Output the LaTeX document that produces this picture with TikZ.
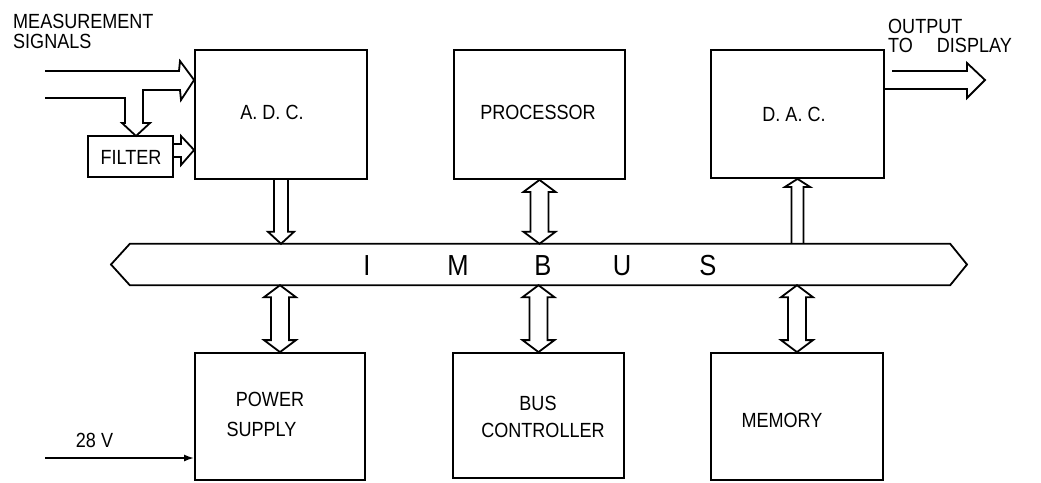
\documentclass[tikz,border=0pt]{standalone}
\usepackage{fontspec}
\setmainfont{Liberation Sans}[FakeStretch=0.88]
\usetikzlibrary{arrows.meta,calc}
\newcommand\vbiarrow[2]{%
  \draw[hollow] let \p1=#1, \p2=#2 in
   (\x1,\y1) -- (\x1+16pt,\y1-12pt) -- (\x1+9pt,\y1-12pt) -- (\x1+9pt,\y2+12pt)
   -- (\x1+16pt,\y2+12pt) -- (\x1,\y2) -- (\x1-16pt,\y2+12pt) -- (\x1-9pt,\y2+12pt)
   -- (\x1-9pt,\y1-12pt) -- (\x1-16pt,\y1-12pt) -- cycle;}
\newcommand\vdownarrow[2]{%
  \draw[hollow] let \p1=#1, \p2=#2 in
   (\x1-7pt,\y1) -- (\x1-7pt,\y2+12pt) -- (\x1-13pt,\y2+12pt) -- (\x1,\y2)
   -- (\x1+13pt,\y2+12pt) -- (\x1+7pt,\y2+12pt) -- (\x1+7pt,\y1);}
\newcommand\vuparrow[2]{%
  \draw[hollow] let \p1=#1, \p2=#2 in
   (\x2-6pt,\y2) -- (\x2-6pt,\y1-8pt) -- (\x2-12.5pt,\y1-8pt) -- (\x1,\y1)
   -- (\x2+12.5pt,\y1-8pt) -- (\x2+6pt,\y1-8pt) -- (\x2+6pt,\y2);}
\begin{document}
\begin{tikzpicture}[x=1pt,y=-1pt,
  box/.style={draw, line width=1.8pt, inner sep=0pt},
  lbl/.style={font=\fontsize{20.5}{24}\selectfont, inner sep=0pt},
  buslbl/.style={font=\fontsize{29}{32}\selectfont, inner sep=0pt},
  hollow/.style={line width=1.8pt, line join=miter},
  line/.style={line width=1.8pt}]
\useasboundingbox (0,0) rectangle (1041,482);

% boxes
\node[box, minimum width=172pt, minimum height=129pt] (adc)   at (281,114.5) {};
\node[box, minimum width=171pt, minimum height=129pt] (proc)  at (539.5,114.5) {};
\node[box, minimum width=173pt, minimum height=128pt] (dac)   at (797.5,114) {};
\node[box, minimum width=170pt, minimum height=127pt] (power) at (280,416.5) {};
\node[box, minimum width=171pt, minimum height=125pt] (busc)  at (538.5,415.5) {};
\node[box, minimum width=172pt, minimum height=127pt] (mem)   at (797,416.5) {};
\node[box, minimum width=85pt, minimum height=41pt]   (filter) at (130.5,156.5) {};

% box labels
\node[lbl] (tadc)  at (272,112)   {A. D. C.};
\node[lbl] (tproc) at (538,112)   {PROCESSOR};
\node[lbl] (tdac)  at (794,114.5) {D. A. C.};
\node[lbl] (tpow1) at (270,399.5) {POWER};
\node[lbl] (tpow2) at (261.5,429.5) {SUPPLY};
\node[lbl] (tbus1) at (538,403)   {BUS};
\node[lbl] (tbus2) at (543,430)   {CONTROLLER};
\node[lbl] (tmem)  at (782,420)   {MEMORY};
\node[lbl] (tfil)  at (131,157)   {FILTER};

% bus
\node[minimum width=820pt, minimum height=41pt, inner sep=0pt] (bus) at (540,264.5) {};
\draw[line] (bus.north west) -- (bus.north east) -- (967,264.5) -- (bus.south east)
  -- (bus.south west) -- (111,264.5) -- cycle;
\node[buslbl] (bI) at (367,266) {I};
\node[buslbl] (bM) at (458,266) {M};
\node[buslbl] (bB) at (543,266) {B};
\node[buslbl] (bU) at (622,266) {U};
\node[buslbl] (bS) at (708,266) {S};

% bus arrows
\vdownarrow{(adc.south)}{(adc.south |- bus.north)}
\vbiarrow{(proc.south)}{(proc.south |- bus.north)}
\vuparrow{(dac.south)}{(dac.south |- bus.north)}
\vbiarrow{(power.north |- bus.south)}{(power.north)}
\vbiarrow{(busc.north |- bus.south)}{(busc.north)}
\vbiarrow{(mem.north |- bus.south)}{(mem.north)}

% inputs
\coordinate (in1) at (45,71);
\coordinate (in2) at (45,98);
\draw[hollow] (in1) -- (179,71) -- (180,61) -- (adc.west |- 0,80) -- (181,100) -- (180,90)
  -- (143,90) -- (143,123) -- (150,123) -- (136,136) -- (122,123) -- (125,123)
  -- (125,98) -- (in2);
\draw[hollow] (filter.east |- 0,144) -- (181,144) -- (181,136) -- (adc.west |- 0,150)
  -- (181,165) -- (181,157) -- (filter.east |- 0,157);

% output
\draw[hollow] (892,71) -- (967,71) -- (967,63) -- (985,80) -- (967,98) -- (967,89)
  -- (dac.east |- 0,89);

% 28 V
\coordinate (v28) at (45,458);
\draw[line, -{Latex[length=10pt,width=7pt]}] (v28) -- (v28 -| power.west);
\node[lbl] (t28) at (94.5,440.5) {28 V};

% texts
\node[lbl, anchor=base west] (tmeas1) at (13,28) {MEASUREMENT};
\node[lbl, anchor=base west] (tmeas2) at (13,48) {SIGNALS};
\node[lbl, anchor=base west] (tout1) at (888,33) {OUTPUT};
\node[lbl, anchor=base west] (tout2) at (888,52) {TO\hspace{24pt}DISPLAY};
\end{tikzpicture}
\end{document}
